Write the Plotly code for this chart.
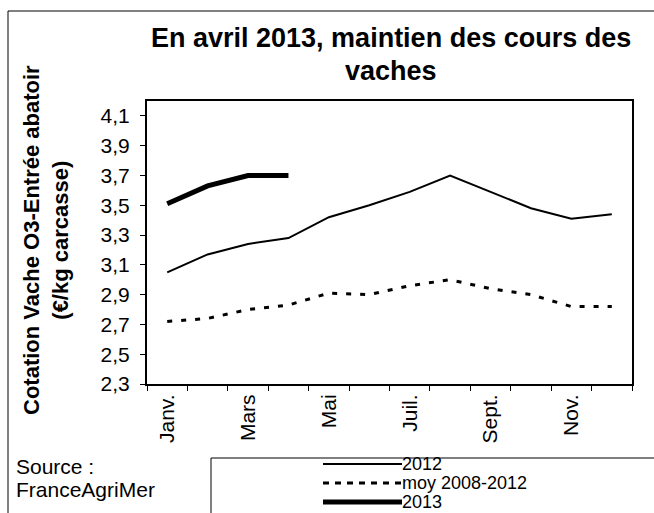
import plotly.graph_objects as go

months = ["Janv.", "Févr.", "Mars", "Avr.", "Mai", "Juin", "Juil.", "Août", "Sept.", "Oct.", "Nov.", "Déc."]
tick_labels = ["Janv.", "", "Mars", "", "Mai", "", "Juil.", "", "Sept.", "", "Nov.", ""]
v2012 = [3.05, 3.17, 3.24, 3.28, 3.42, 3.50, 3.59, 3.70, 3.59, 3.48, 3.41, 3.44]
vmoy = [2.72, 2.74, 2.80, 2.83, 2.91, 2.90, 2.96, 3.00, 2.94, 2.90, 2.82, 2.82]
v2013 = [3.51, 3.63, 3.70, 3.70]
series_names = ["2012", "moy 2008-2012", "2013"]
title_lines = ["En avril 2013, maintien des cours des", "vaches"]

FONT = "Liberation Sans, Arial, sans-serif"
W, H = 654, 513
L, R, T, B = 147, 22, 101, 129
PW, PH = W - L - R, H - T - B


def px(x):
    return (x - L) / PW


def py(y):
    return (H - B - y) / PH


fig = go.Figure()
fig.add_trace(go.Scatter(x=months, y=v2012, mode="lines", name=series_names[0],
                         line=dict(color="black", width=2), showlegend=False))
fig.add_trace(go.Scatter(x=months, y=vmoy, mode="lines", name=series_names[1],
                         line=dict(color="black", width=3, dash="5px,9px"), showlegend=False))
fig.add_trace(go.Scatter(x=months[:len(v2013)], y=v2013, mode="lines", name=series_names[2],
                         line=dict(color="black", width=5), showlegend=False))

shapes = [
    # outer frame (top and left)
    dict(type="line", xref="paper", yref="paper", x0=px(8), x1=px(660), y0=py(11), y1=py(11),
         line=dict(color="black", width=1)),
    dict(type="line", xref="paper", yref="paper", x0=px(8), x1=px(8), y0=py(11), y1=py(520),
         line=dict(color="black", width=1)),
    # legend box
    dict(type="rect", xref="paper", yref="paper", x0=px(211), x1=px(660), y0=py(458), y1=py(520),
         line=dict(color="black", width=1)),
]
legend_y = [464, 483, 502]
legend_styles = [dict(width=2), dict(width=3, dash="6px,6px"), dict(width=5)]
annotations = []
for name, yy, st in zip(series_names, legend_y, legend_styles):
    shapes.append(dict(type="line", xref="paper", yref="paper", x0=px(323), x1=px(402),
                       y0=py(yy), y1=py(yy), line=dict(color="black", **st)))
    annotations.append(dict(text=name, xref="paper", yref="paper", x=px(401), y=py(yy),
                            xanchor="left", yanchor="middle", showarrow=False, borderpad=0,
                            font=dict(family=FONT, size=18, color="black")))

for line, yy in zip(title_lines, [38, 71]):
    annotations.append(dict(text="<b>" + line + "</b>", xref="paper", yref="paper",
                            x=px(391), y=py(yy), xanchor="center", yanchor="middle",
                            showarrow=False, font=dict(family=FONT, size=27, color="black")))

annotations += [
    dict(text="<b>Cotation Vache O3-Entrée abatoir<br>(€/kg carcasse)</b>", xref="paper", yref="paper",
         x=px(46), y=py(240), xanchor="center", yanchor="middle", textangle=-90, showarrow=False,
         font=dict(family=FONT, size=22, color="black")),
    dict(text="Source :", xref="paper", yref="paper", x=px(15), y=py(467), xanchor="left",
         yanchor="middle", showarrow=False, borderpad=0, font=dict(family=FONT, size=21, color="black")),
    dict(text="FranceAgriMer", xref="paper", yref="paper", x=px(15), y=py(489), xanchor="left",
         yanchor="middle", showarrow=False, borderpad=0, font=dict(family=FONT, size=21, color="black")),
]

fig.update_layout(
    width=W, height=H,
    margin=dict(l=L, r=R, t=T, b=B, pad=0),
    paper_bgcolor="white", plot_bgcolor="white",
    separators=", ",
    font=dict(family=FONT, size=21, color="black"),
    shapes=shapes, annotations=annotations,
    showlegend=False,
)
fig.update_xaxes(type="category", categoryorder="array", categoryarray=months,
                 tickmode="array", tickvals=months, ticktext=tick_labels,
                 tickson="boundaries", ticks="outside", ticklen=5, tickwidth=1, tickcolor="black",
                 tickangle=-90, showgrid=False, zeroline=False,
                 showline=True, linecolor="black", linewidth=2, mirror=True,
                 range=[-0.5, 11.5], tickfont=dict(family=FONT, size=21))
fig.update_yaxes(range=[2.3, 4.2], tick0=2.3, dtick=0.2, tickformat=".1f",
                 ticks="outside", ticklen=5, tickwidth=1, tickcolor="black",
                 showgrid=False, zeroline=False,
                 showline=True, linecolor="black", linewidth=2, mirror=True,
                 ticklabelstandoff=6, tickfont=dict(family=FONT, size=21))

fig.write_html("out.html", config={"displayModeBar": False},
               post_script="document.body.style.margin='0';document.body.style.overflow='hidden';")
